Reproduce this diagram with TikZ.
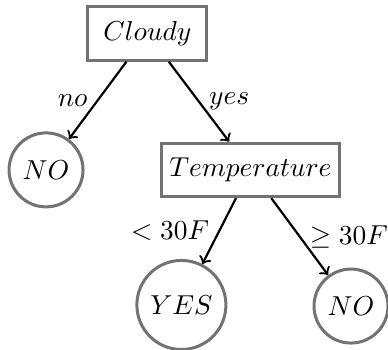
\documentclass[tikz,border=0pt]{standalone}
\usepackage{amssymb, amsmath}
\usepackage{tikz}
\usetikzlibrary{shapes,arrows,calc}

\begin{document}
\begin{tikzpicture}[x=1pt,y=1pt]
      \tikzset{test node/.style={draw=black!55,
          line width=1.1pt,
          rectangle,
          minimum height=19.5pt,
          inner sep=3pt},
        leaf node/.style={draw=black!55,
          line width=1.1pt,
          circle,
          inner sep=0pt,
          minimum size=#1},
        branch/.style={->,thick}
      }
      \useasboundingbox (0,0) rectangle (141.6,-127.4);
      \node [test node,minimum width=43.4pt] (cloudy) at (53.8,-12.2) {$Cloudy$};
      \node [leaf node=27pt] (noA) at (16.8,-62.0) {$NO$};
      \node [test node] (temp) at (91.4,-62.0) {$Temperature$};
      \node [leaf node=32.5pt] (yes) at (66.2,-111.3) {$YES$};
      \node [leaf node=27pt] (noB) at (128.1,-111.7) {$NO$};
      \draw [branch] (cloudy)--node[left]{$no$} (noA);
      \draw [branch] (cloudy)--node[right]{$yes$} (temp);
      \draw [branch] (temp)--node[left]{$<30F$} (yes);
      \draw [branch] (temp)--node[right]{$\geq30F$} (noB);
    \end{tikzpicture}
\end{document}
